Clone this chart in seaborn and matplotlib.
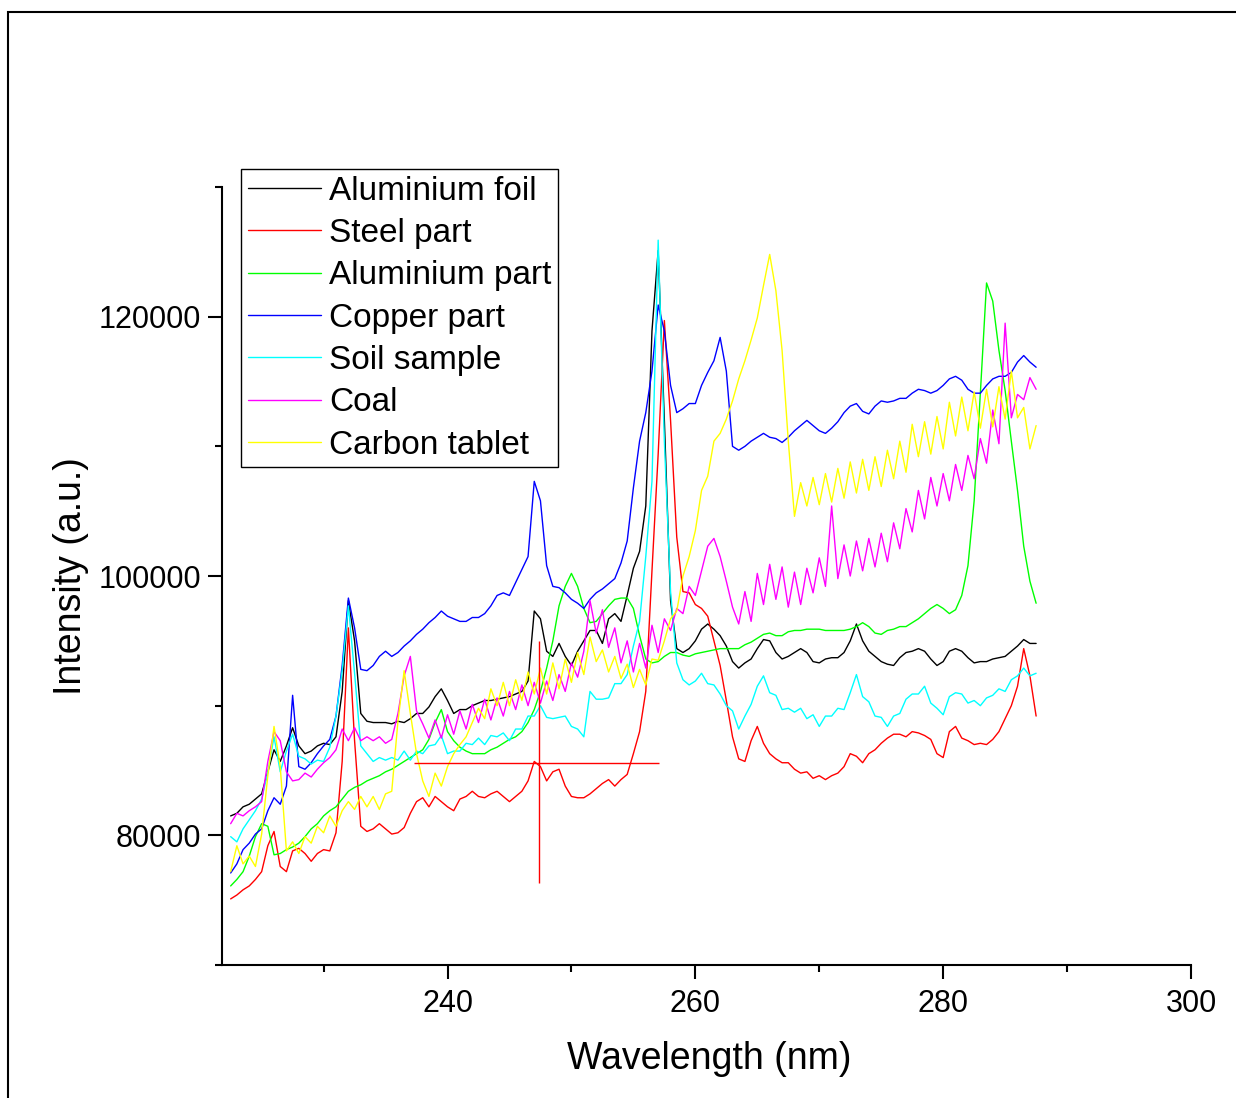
import numpy as np
import pandas as pd
import matplotlib
matplotlib.use("Agg")
import matplotlib.pyplot as plt
import seaborn as sns
from matplotlib.patches import Rectangle
from matplotlib.ticker import MultipleLocator

# ---------------- data (intensity in thousands of counts) ----------------
wavelength = np.arange(222.5, 287.75, 0.5)  # nm, 131 samples

aluminium_foil_k = [
    81.5, 81.7, 82.2, 82.4, 82.8, 83.2, 84.9, 86.6, 85.7, 86.9,
    88.3, 86.9, 86.3, 86.5, 86.9, 87.1, 87.0, 87.6, 91.1, 98.1,
    95.0, 89.4, 88.8, 88.7, 88.7, 88.7, 88.6, 88.8, 88.7, 89.0,
    89.4, 89.4, 89.9, 90.7, 91.3, 90.4, 89.4, 89.7, 89.7, 90.0,
    90.2, 90.4, 90.4, 90.5, 90.6, 90.7, 90.9, 91.1, 91.9, 97.3,
    96.7, 94.2, 93.8, 94.8, 93.8, 93.1, 94.2, 95.0, 95.8, 95.8,
    94.8, 96.7, 97.1, 96.5, 98.5, 100.6, 101.9, 105.4, 118.9, 125.1,
    112.0, 98.1, 94.4, 94.1, 94.4, 95.0, 95.9, 96.3, 95.9, 95.4,
    94.6, 93.4, 92.9, 93.3, 93.6, 94.4, 95.1, 95.0, 94.1, 93.6,
    93.8, 94.1, 94.4, 94.1, 93.4, 93.3, 93.6, 93.7, 93.7, 94.1,
    95.0, 96.3, 95.0, 94.2, 93.8, 93.4, 93.2, 93.1, 93.7, 94.1,
    94.2, 94.4, 94.2, 93.6, 93.1, 93.4, 94.2, 94.4, 94.2, 93.7,
    93.3, 93.4, 93.4, 93.6, 93.7, 93.8, 94.2, 94.6, 95.1, 94.8,
    94.8,
]

steel_part_k = [
    75.1, 75.4, 75.8, 76.1, 76.6, 77.2, 79.2, 80.3, 77.6, 77.2,
    78.8, 79.0, 78.6, 78.0, 78.6, 78.9, 78.8, 80.2, 85.7, 96.0,
    87.3, 80.7, 80.3, 80.5, 80.9, 80.5, 80.1, 80.2, 80.6, 81.7,
    82.6, 82.9, 82.2, 83.0, 82.6, 82.2, 81.9, 82.8, 83.0, 83.4,
    83.0, 82.9, 83.2, 83.4, 83.0, 82.6, 83.0, 83.4, 84.2, 85.7,
    85.3, 84.2, 84.9, 85.1, 83.8, 83.0, 82.9, 82.9, 83.2, 83.6,
    84.0, 84.3, 83.8, 84.3, 84.7, 86.3, 88.0, 91.1, 100.4, 109.4,
    119.7, 112.0, 103.0, 98.8, 98.7, 97.8, 97.5, 96.9, 95.0, 93.1,
    90.4, 87.6, 85.9, 85.7, 87.3, 88.4, 87.1, 86.3, 85.9, 85.6,
    85.6, 85.1, 84.8, 84.9, 84.4, 84.6, 84.3, 84.6, 84.8, 85.3,
    86.3, 86.1, 85.6, 86.3, 86.6, 87.1, 87.5, 87.8, 87.8, 87.6,
    88.0, 87.9, 87.7, 87.4, 86.3, 86.0, 88.0, 88.4, 87.5, 87.3,
    87.0, 87.1, 87.0, 87.4, 88.0, 89.0, 90.0, 91.5, 94.4, 92.3,
    89.2,
]

aluminium_part_k = [
    76.1, 76.6, 77.2, 78.4, 79.9, 80.9, 80.7, 78.5, 78.6, 78.9,
    79.1, 79.4, 79.9, 80.5, 80.9, 81.5, 81.9, 82.2, 82.8, 83.4,
    83.7, 83.9, 84.2, 84.4, 84.6, 84.9, 85.1, 85.4, 85.7, 86.0,
    86.3, 86.6, 87.4, 88.7, 89.7, 88.0, 87.3, 86.8, 86.5, 86.3,
    86.3, 86.3, 86.6, 86.8, 87.1, 87.4, 87.6, 88.0, 88.7, 89.7,
    91.1, 92.9, 95.0, 97.7, 99.2, 100.2, 99.2, 97.5, 96.4, 96.5,
    97.1, 97.7, 98.2, 98.3, 98.3, 97.5, 95.4, 93.6, 93.3, 93.4,
    93.8, 94.1, 94.1, 93.9, 93.8, 94.0, 94.1, 94.2, 94.3, 94.4,
    94.4, 94.4, 94.4, 94.7, 94.9, 95.2, 95.5, 95.6, 95.4, 95.4,
    95.7, 95.8, 95.8, 95.9, 95.9, 95.9, 95.8, 95.8, 95.8, 95.8,
    95.9, 96.1, 96.4, 96.1, 95.6, 95.5, 95.8, 95.9, 96.1, 96.1,
    96.4, 96.7, 97.1, 97.5, 97.8, 97.5, 97.1, 97.4, 98.5, 100.8,
    105.8, 114.1, 122.6, 121.2, 117.4, 114.3, 110.4, 106.6, 102.3, 99.6,
    97.9,
]

copper_part_k = [
    77.1, 77.8, 78.9, 79.4, 80.1, 80.5, 81.9, 82.9, 82.4, 83.8,
    90.8, 85.3, 85.1, 85.6, 86.3, 86.9, 87.4, 89.2, 93.1, 98.3,
    96.0, 92.8, 92.7, 93.1, 93.8, 94.2, 93.8, 94.1, 94.6, 95.0,
    95.5, 95.9, 96.4, 96.8, 97.3, 96.9, 96.7, 96.5, 96.5, 96.8,
    96.8, 97.1, 97.7, 98.5, 98.7, 98.5, 99.5, 100.5, 101.5, 107.3,
    105.8, 100.8, 99.2, 99.1, 98.7, 98.2, 97.9, 97.5, 98.2, 98.7,
    99.0, 99.4, 99.8, 101.0, 102.7, 106.8, 110.4, 112.6, 115.8, 120.9,
    118.9, 114.7, 112.6, 112.9, 113.3, 113.3, 114.7, 115.7, 116.6, 118.4,
    115.8, 110.0, 109.7, 110.0, 110.4, 110.7, 111.0, 110.7, 110.6, 110.3,
    110.7, 111.2, 111.6, 112.0, 111.6, 111.2, 111.0, 111.4, 111.9, 112.6,
    113.1, 113.3, 112.7, 112.5, 113.1, 113.5, 113.4, 113.5, 113.7, 113.7,
    114.1, 114.4, 114.3, 114.1, 114.3, 114.7, 115.2, 115.4, 115.1, 114.4,
    114.1, 114.1, 114.7, 115.2, 115.4, 115.4, 115.7, 116.5, 117.0, 116.5,
    116.1,
]

soil_sample_k = [
    79.9, 79.5, 80.5, 81.2, 81.9, 82.8, 84.9, 87.6, 84.9, 86.5,
    87.8, 86.1, 85.9, 85.5, 85.8, 85.7, 86.8, 89.2, 92.7, 97.7,
    92.5, 86.9, 86.3, 85.7, 86.0, 85.8, 86.0, 85.8, 86.5, 85.8,
    86.5, 86.3, 86.9, 87.0, 87.7, 86.3, 86.5, 86.5, 87.1, 87.0,
    87.5, 87.0, 87.7, 87.6, 87.9, 87.3, 88.2, 88.2, 89.2, 89.2,
    90.0, 89.1, 89.0, 89.1, 89.2, 88.4, 88.2, 87.6, 91.1, 90.5,
    90.5, 90.6, 91.7, 91.7, 92.4, 94.6, 96.5, 101.5, 107.3, 125.9,
    110.4, 98.8, 93.3, 92.0, 91.6, 91.9, 92.5, 91.7, 91.6, 90.9,
    90.0, 89.6, 88.2, 89.2, 90.1, 91.5, 92.3, 91.0, 90.8, 89.7,
    89.8, 89.5, 89.8, 89.0, 89.3, 88.4, 89.2, 89.2, 89.8, 89.7,
    91.0, 92.4, 90.7, 90.3, 89.2, 89.1, 88.4, 89.2, 89.4, 90.5,
    90.9, 90.9, 91.5, 90.2, 89.8, 89.3, 90.7, 91.0, 90.9, 90.2,
    90.4, 90.0, 90.6, 90.8, 91.3, 91.1, 92.0, 92.3, 92.9, 92.3,
    92.5,
]

coal_k = [
    80.9, 81.7, 81.5, 81.9, 82.2, 82.6, 85.7, 88.0, 87.3, 84.9,
    84.2, 84.3, 84.8, 84.5, 85.1, 85.6, 86.0, 86.6, 88.2, 87.3,
    88.3, 87.3, 87.6, 87.3, 87.6, 87.1, 87.4, 89.4, 92.3, 93.8,
    89.6, 88.6, 87.5, 88.9, 87.5, 89.3, 87.8, 89.6, 88.2, 90.1,
    88.7, 90.5, 88.9, 90.6, 89.2, 91.1, 89.7, 91.6, 90.0, 91.8,
    90.2, 91.9, 90.4, 92.4, 91.1, 93.3, 92.2, 94.2, 98.1, 95.6,
    97.4, 94.5, 96.0, 93.3, 95.0, 92.6, 94.8, 92.9, 96.2, 94.1,
    96.7, 95.8, 97.5, 97.1, 99.2, 98.5, 100.4, 102.3, 102.9, 101.5,
    99.6, 97.6, 96.3, 98.8, 96.5, 100.2, 97.8, 100.9, 98.2, 100.7,
    97.6, 100.3, 97.8, 100.6, 98.7, 101.4, 99.2, 105.4, 99.8, 102.4,
    100.0, 102.7, 100.4, 102.9, 100.7, 103.3, 101.1, 104.1, 102.1, 105.2,
    103.4, 106.6, 104.4, 107.6, 105.4, 107.9, 105.8, 108.6, 106.6, 109.3,
    107.5, 110.6, 108.7, 112.8, 110.2, 119.5, 112.2, 114.0, 113.6, 115.3,
    114.4,
]

carbon_tablet_k = [
    77.2, 79.2, 77.8, 78.4, 77.6, 80.1, 84.6, 88.4, 85.3, 78.8,
    79.5, 78.6, 79.9, 79.4, 80.7, 80.2, 81.5, 80.7, 81.9, 82.6,
    82.0, 83.0, 82.2, 83.0, 82.0, 83.2, 83.4, 88.8, 92.7, 89.4,
    86.3, 84.2, 83.0, 84.8, 83.8, 85.3, 86.3, 87.0, 87.6, 88.7,
    89.8, 89.0, 91.3, 90.0, 91.8, 90.0, 92.0, 90.4, 92.6, 90.9,
    92.9, 90.9, 93.3, 91.3, 93.6, 91.8, 94.1, 92.4, 95.3, 93.4,
    94.3, 92.6, 93.8, 92.1, 93.2, 91.4, 92.8, 91.6, 93.6, 93.5,
    95.0, 96.7, 97.3, 100.0, 101.5, 103.5, 106.6, 107.7, 110.4, 111.0,
    112.1, 113.5, 115.2, 116.6, 118.2, 119.9, 122.4, 124.8, 122.0, 117.4,
    110.4, 104.6, 107.2, 105.4, 107.6, 105.5, 107.9, 105.7, 108.3, 106.0,
    108.8, 106.4, 109.0, 106.6, 109.2, 106.9, 109.7, 107.5, 110.4, 108.0,
    111.7, 109.2, 111.9, 109.4, 112.3, 109.8, 113.4, 110.8, 113.8, 111.2,
    114.2, 111.4, 114.4, 111.5, 114.6, 112.1, 115.8, 112.2, 113.0, 109.8,
    111.6,
]

samples = ["Aluminium foil", "Steel part", "Aluminium part", "Copper part",
           "Soil sample", "Coal", "Carbon tablet"]
series_k = [aluminium_foil_k, steel_part_k, aluminium_part_k, copper_part_k,
            soil_sample_k, coal_k, carbon_tablet_k]
colors = ["#000000", "#FF0000", "#00FF00", "#0000FF", "#00FFFF", "#FF00FF", "#FFFF00"]

x_ticks = [240, 260, 280, 300]
y_ticks = [80000, 100000, 120000]

# data cursor (red crosshair) shown in the original
cursor_x = 247.4
cursor_y = 85600
cursor_x_span = (237.3, 257.1)
cursor_y_span = (76300, 95000)

# ---------------- build long-form table ----------------
frames = []
for name, vals in zip(samples, series_k):
    assert len(vals) == len(wavelength), (name, len(vals))
    frames.append(pd.DataFrame({"Wavelength": wavelength,
                                "Intensity": np.asarray(vals) * 1000.0,
                                "Sample": name}))
df = pd.concat(frames, ignore_index=True)

# ---------------- plot ----------------
sns.set_theme(style="ticks")
plt.rcParams["font.family"] = ["Liberation Sans", "DejaVu Sans"]
plt.rcParams["text.color"] = "black"
plt.rcParams["axes.labelcolor"] = "black"

fig = plt.figure(figsize=(12.36, 10.98), dpi=100)
ax = fig.add_axes([0.1796, 0.1211, 0.7840, 0.7086])

sns.lineplot(data=df, x="Wavelength", y="Intensity", hue="Sample",
             hue_order=samples, palette=dict(zip(samples, colors)),
             estimator=None, sort=False, linewidth=1.0, ax=ax)

ax.hlines(cursor_y, *cursor_x_span, color="#FF0000", linewidth=1.0, zorder=5)
ax.vlines(cursor_x, *cursor_y_span, color="#FF0000", linewidth=1.0, zorder=5)

ax.set_xlim(221.8, 300)
ax.set_ylim(70000, 130000)
ax.set_xticks(x_ticks)
ax.set_yticks(y_ticks)
ax.xaxis.set_minor_locator(MultipleLocator(10))
ax.yaxis.set_minor_locator(MultipleLocator(10000))

for side in ["top", "right"]:
    ax.spines[side].set_visible(False)
for side in ["left", "bottom"]:
    ax.spines[side].set_linewidth(1.5)
    ax.spines[side].set_color("black")

ax.tick_params(axis="both", which="major", direction="out", length=10, width=1.5,
               labelsize=22, colors="black")
ax.tick_params(axis="both", which="minor", direction="out", length=5, width=1.5,
               colors="black")
ax.tick_params(axis="x", which="major", pad=7)
ax.tick_params(axis="y", which="major", pad=5)

ax.set_xlabel("Wavelength (nm)", fontsize=27, color="black")
ax.set_ylabel("Intensity (a.u.)", fontsize=27, color="black")
ax.xaxis.set_label_coords(0.5026, -0.097)
ax.yaxis.set_label_coords(-0.137, 0.5)

handles, labels = ax.get_legend_handles_labels()
if ax.get_legend() is not None:
    ax.get_legend().remove()
leg = ax.legend(handles, labels, loc="upper left",
                bbox_to_anchor=(241 / 1236, 1 - 169 / 1098),
                bbox_transform=fig.transFigure, fontsize=24,
                frameon=True, fancybox=False, shadow=False, framealpha=1.0,
                edgecolor="black", borderpad=0.2, borderaxespad=0,
                handlelength=2.2, handletextpad=0.25, labelspacing=0.34,
                labelcolor="black")
leg.get_frame().set_linewidth(1.0)
for line in leg.get_lines():
    line.set_linewidth(1.0)

# outer border of the figure
fig.patches.append(Rectangle((8 / 1236, -0.05), 1.2, 1.05 - 12 / 1098,
                             transform=fig.transFigure, fill=False,
                             edgecolor="black", linewidth=1.5))

fig.savefig("out.png", dpi=100)
